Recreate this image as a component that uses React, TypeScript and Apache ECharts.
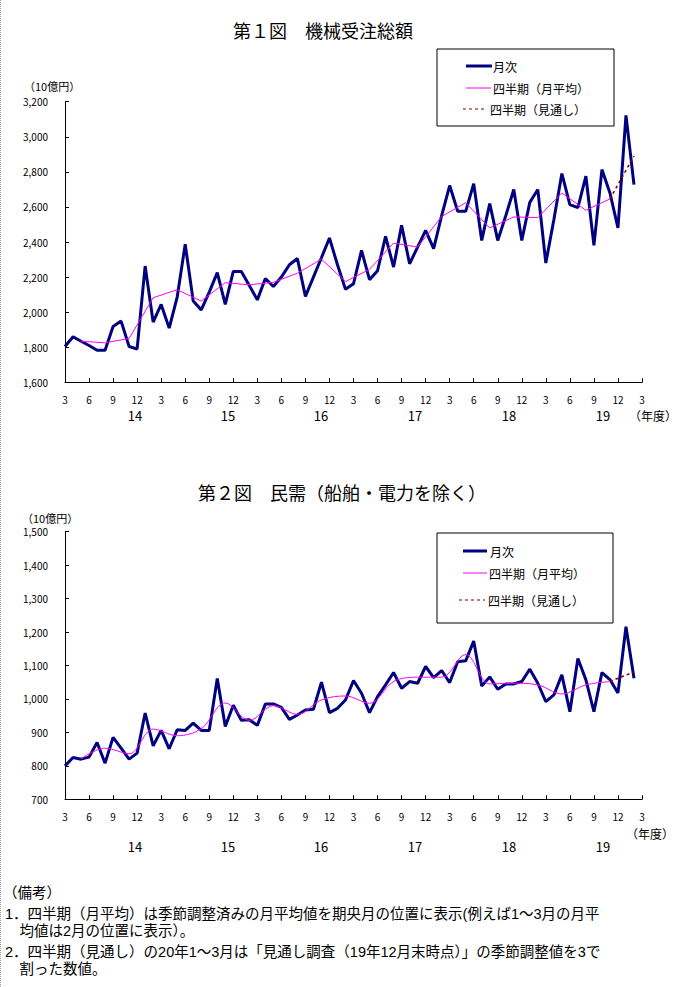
import React, { useEffect, useRef } from 'react';
import * as echarts from 'echarts';

// ---- categories: monthly, Mar 2014 .. Mar 2020 ----
const startYear = 2014;
const startMonth = 3;
const monthCount = 73;
const categories: string[] = [];
for (let k = 0; k < monthCount; k++) {
  const m = ((startMonth - 1 + k) % 12) + 1;
  const y = startYear + Math.floor((startMonth - 1 + k) / 12);
  categories.push(`${y}-${m < 10 ? '0' + m : m}`);
}

// ---- Figure 1: 機械受注総額 (10億円), monthly from Mar 2014 ----
const monthlyTotal = [
  1804, 1860, 1834, 1810, 1783, 1783, 1918, 1949, 1804, 1790, 2263, 1943,
  2044, 1909, 2086, 2387, 2063, 2013, 2114, 2225, 2044, 2232, 2232, 2152,
  2070, 2192, 2146, 2200, 2270, 2306, 2090, 2200, 2310, 2423, 2270, 2130,
  2162, 2352, 2185, 2236, 2432, 2257, 2495, 2276, 2371, 2466, 2362, 2550,
  2722, 2575, 2575, 2733, 2409, 2619, 2409, 2550, 2699, 2409, 2626, 2699,
  2280, 2527, 2790, 2613, 2596, 2775, 2381, 2813, 2680, 2480, 3122, 2727,
];
// quarterly averages, plotted at the middle month (May, Aug, Nov, Feb) from May 2014
const quarterlyTotal = [
  1834, 1825, 1850, 2082, 2128, 2063, 2168, 2156, 2170, 2222, 2302, 2174,
  2244, 2394, 2371, 2545, 2624, 2480, 2543, 2539, 2680, 2581, 2646,
];
const forecastTotal = 2890; // Jan-Mar 2020 (Feb position)

// ---- Figure 2: 民需（船舶・電力を除く） ----
const monthlyPrivate = [
  800, 825, 820, 826, 870, 808, 885, 853, 820, 838, 958, 860,
  906, 851, 908, 906, 928, 906, 906, 1061, 918, 981, 936, 938,
  921, 985, 985, 975, 939, 952, 967, 969, 1050, 959, 972, 997,
  1055, 1017, 959, 1007, 1042, 1079, 1032, 1052, 1047, 1097, 1064, 1085,
  1049, 1111, 1114, 1173, 1039, 1066, 1029, 1045, 1045, 1052, 1089, 1047,
  992, 1012, 1072, 962, 1121, 1057, 962, 1079, 1058, 1018, 1216, 1062,
];
const quarterlyPrivate = [
  821, 853, 836, 910, 890, 911, 988, 936, 980, 954, 997, 1009,
  987, 1052, 1065, 1065, 1133, 1045, 1047, 1042, 1015, 1042, 1052,
];
const forecastPrivate = 1081;

const firstQuarterIndex = 2; // May 2014
const forecastIndex = 71; // Feb 2020

const seriesNames = ['月次', '四半期（月平均）', '四半期（見通し）'];
const yearLabels = ['14', '15', '16', '17', '18', '19'];
const yearLabelX = [135, 228, 321, 415, 509, 603];

const titles = ['第１図　機械受注総額', '第２図　民需（船舶・電力を除く）'];
const unitLabel = '（10億円）';
const fyLabel = '（年度）';
const notes = [
  '（備考）',
  '1．四半期（月平均）は季節調整済みの月平均値を期央月の位置に表示(例えば1～3月の月平',
  '　均値は2月の位置に表示）。',
  '2．四半期（見通し）の20年1～3月は「見通し調査（19年12月末時点）」の季節調整値を3で',
  '　割った数値。',
];

function placeQuarterly(q: number[]): (number | null)[] {
  const arr: (number | null)[] = categories.map(() => null);
  q.forEach((v, k) => {
    arr[firstQuarterIndex + 3 * k] = v;
  });
  return arr;
}
function placeForecast(q: number[], f: number): (number | null)[] {
  const arr: (number | null)[] = categories.map(() => null);
  arr[firstQuarterIndex + 3 * (q.length - 1)] = q[q.length - 1];
  arr[forecastIndex] = f;
  return arr;
}

const NAVY = '#000080';
const MAGENTA = '#FF00FF';
const DARKRED = '#800000';
const JP = '"Noto Sans CJK JP", sans-serif';
const NOTE_FONT = '"Liberation Sans", "Noto Sans CJK JP", sans-serif';

function txt(text: string, x: number, y: number, size: number, align = 'left', extra: any = {}) {
  return {
    type: 'text',
    x,
    y,
    silent: true,
    style: {
      text,
      fill: '#000',
      fontSize: size,
      fontFamily: JP,
      textAlign: align,
      textVerticalAlign: 'middle',
      align,
      verticalAlign: 'middle',
      ...extra,
    },
  };
}

function legendBox(x0: number, y0: number, x1: number, y1: number, rows: { y: number; lx0: number; lx1: number; tx: number }[]) {
  const els: any[] = [
    { type: 'rect', shape: { x: x0, y: y0, width: x1 - x0, height: y1 - y0 }, style: { fill: '#fff', stroke: '#000', lineWidth: 1 }, z: 10 },
  ];
  const styles = [
    { stroke: NAVY, lineWidth: 3 },
    { stroke: MAGENTA, lineWidth: 1 },
    { stroke: DARKRED, lineWidth: 1.2, lineDash: [3, 3] },
  ];
  rows.forEach((r, k) => {
    els.push({ type: 'line', shape: { x1: r.lx0, y1: r.y, x2: r.lx1, y2: r.y }, style: styles[k], z: 11 });
    els.push({ ...txt(seriesNames[k], r.tx, r.y, 12), z: 11 });
  });
  return els;
}

export default function App() {
  const ref = useRef<HTMLDivElement>(null);
  useEffect(() => {
    if (!ref.current) return;
    const chart = echarts.init(ref.current, undefined, { renderer: 'svg' });

    const grids = [
      { left: 65, top: 101.7, width: 577, height: 280.6 },
      { left: 65, top: 531.7, width: 577, height: 267.6 },
    ];
    const yRanges = [
      { min: 1600, max: 3200, interval: 200 },
      { min: 700, max: 1500, interval: 100 },
    ];
    const showEvery3 = (i: number) => i % 3 === 0;

    const xAxis = [0, 1].map((gi) => ({
      type: 'category',
      gridIndex: gi,
      data: categories,
      boundaryGap: false,
      axisLine: { show: true, lineStyle: { color: '#000', width: 1 } },
      axisTick: { show: true, inside: true, length: 4, interval: showEvery3, lineStyle: { color: '#000' } },
      axisLabel: {
        interval: showEvery3,
        formatter: (v: string) => String(Number(v.split('-')[1])),
        fontSize: 10,
        color: '#000',
        margin: 12,
        fontFamily: JP,
      },
      splitLine: { show: false },
    }));
    const yAxis = [0, 1].map((gi) => ({
      type: 'value',
      gridIndex: gi,
      ...yRanges[gi],
      axisLine: { show: true, lineStyle: { color: '#000', width: 1 } },
      axisTick: { show: true, inside: true, length: 4, lineStyle: { color: '#000' } },
      splitLine: { show: false },
      axisLabel: {
        formatter: (v: number) => v.toLocaleString('en-US'),
        fontSize: 10,
        color: '#000',
        margin: 17,
        fontFamily: JP,
      },
    }));

    const makeSeries = (gi: number, monthly: number[], quarterly: number[], forecast: number, smooth: number) => [
      {
        name: seriesNames[0], type: 'line', xAxisIndex: gi, yAxisIndex: gi, data: monthly,
        symbol: 'none', lineStyle: { color: NAVY, width: 3 }, itemStyle: { color: NAVY }, z: 3,
      },
      {
        name: seriesNames[1], type: 'line', xAxisIndex: gi, yAxisIndex: gi, data: placeQuarterly(quarterly),
        connectNulls: true, smooth, symbol: 'none', lineStyle: { color: MAGENTA, width: 1 }, itemStyle: { color: MAGENTA }, z: 4,
      },
      {
        name: seriesNames[2], type: 'line', xAxisIndex: gi, yAxisIndex: gi, data: placeForecast(quarterly, forecast),
        connectNulls: true, symbol: 'none', lineStyle: { color: DARKRED, width: 1.5, type: [3, 3] }, itemStyle: { color: DARKRED }, z: 4,
      },
    ];

    const noteStyle = { fontFamily: NOTE_FONT, lineHeight: 15 };
    const graphic: any[] = [
      { type: 'line', shape: { x1: 0.5, y1: 0, x2: 0.5, y2: 987 }, style: { stroke: '#999', lineWidth: 1, lineDash: [1, 1] } },
      txt(titles[0], 323, 30, 18, 'center'),
      txt(titles[1], 342, 492, 18, 'center'),
      txt(unitLabel, 24, 86, 11),
      txt(unitLabel, 22, 518, 11),
      txt(fyLabel, 653, 415, 12, 'center'),
      txt(fyLabel, 650, 833, 12, 'center'),
      ...yearLabels.map((t, k) => txt(t, yearLabelX[k], 415, 13, 'center')),
      ...yearLabels.map((t, k) => txt(t, yearLabelX[k], 846, 13, 'center')),
      ...legendBox(437, 49, 614, 126, [
        { y: 66, lx0: 466, lx1: 492, tx: 493 },
        { y: 88, lx0: 466, lx1: 491, tx: 493 },
        { y: 109, lx0: 463, lx1: 487, tx: 490 },
      ]),
      ...legendBox(437, 533, 613, 623, [
        { y: 551, lx0: 463, lx1: 487, tx: 490 },
        { y: 573, lx0: 463, lx1: 487, tx: 489 },
        { y: 600, lx0: 459, lx1: 485, tx: 488 },
      ]),
      txt(notes[0], 3, 893, 14.5, 'left', noteStyle),
      txt(notes[1], 5, 914, 14.5, 'left', noteStyle),
      txt(notes[2], 5, 931, 14.5, 'left', noteStyle),
      txt(notes[3], 5, 952, 14.5, 'left', noteStyle),
      txt(notes[4], 5, 969, 14.5, 'left', noteStyle),
    ];

    chart.setOption({
      animation: false,
      backgroundColor: '#fff',
      grid: grids,
      xAxis,
      yAxis,
      series: [
        ...makeSeries(0, monthlyTotal, quarterlyTotal, forecastTotal, 0),
        ...makeSeries(1, monthlyPrivate, quarterlyPrivate, forecastPrivate, 0.35),
      ],
      graphic,
    });
    return () => chart.dispose();
  }, []);

  return (
    <div
      ref={ref}
      style={{ position: 'absolute', left: 0, top: 0, width: 685, height: 987, background: '#fff' }}
    />
  );
}
